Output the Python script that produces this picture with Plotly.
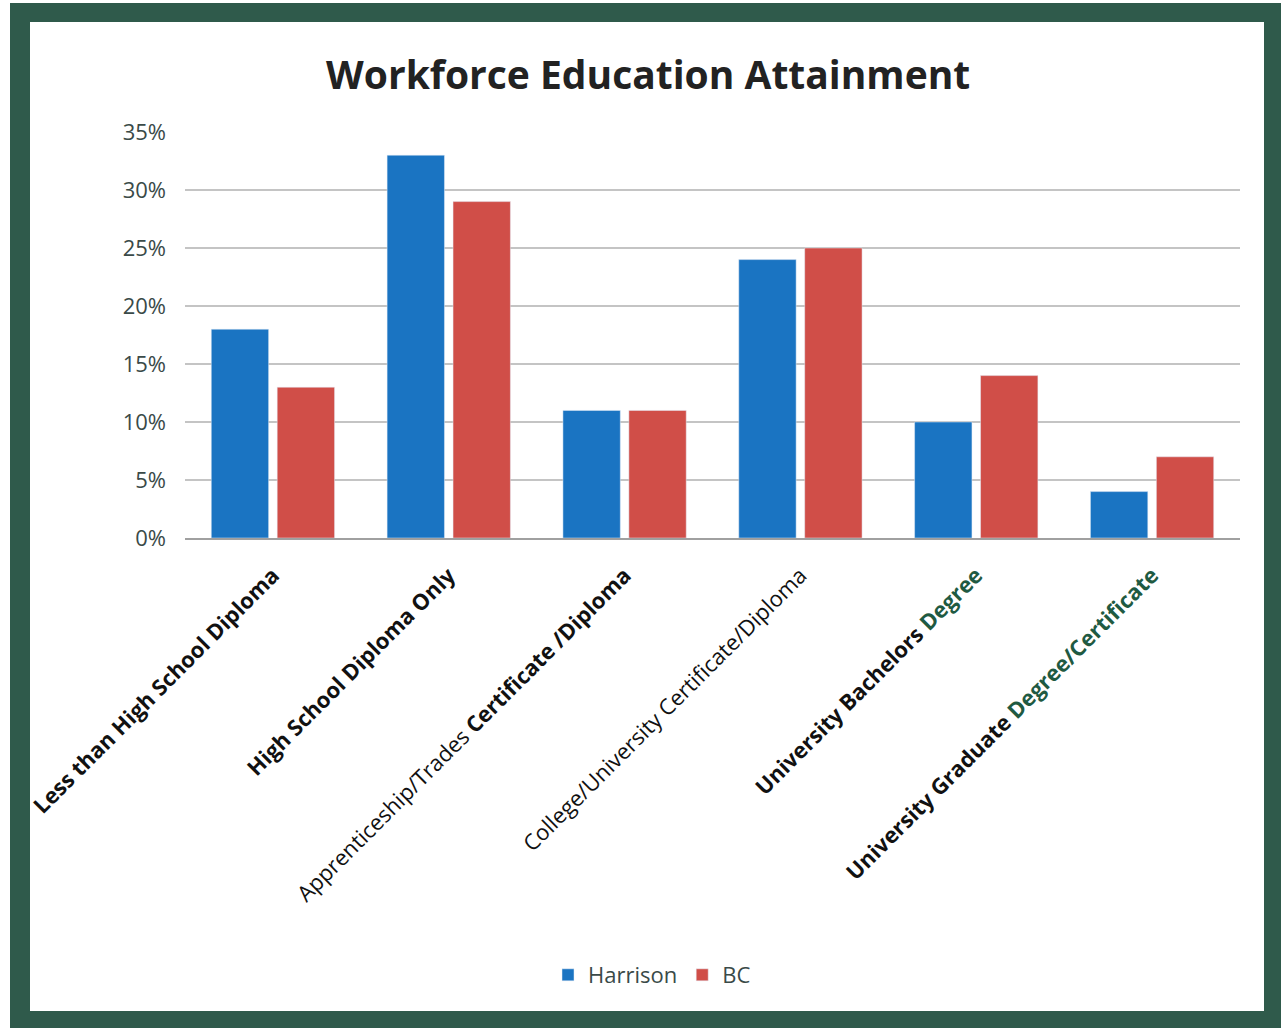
import plotly.graph_objects as go

categories = [
    "Less than High School Diploma",
    "High School Diploma Only",
    "Apprenticeship/Trades Certificate /Diploma",
    "College/University Certificate/Diploma",
    "University Bachelors Degree",
    "University Graduate Degree/Certificate",
]
tick_labels = [
    "<b>Less than High School Diploma</b>",
    "<b>High School Diploma Only</b>",
    "Apprenticeship/Trades <b>Certificate /Diploma</b>",
    "College/University Certificate/Diploma",
    "<b>University Bachelors <span style='color:#1f5a42'>Degree</span></b>",
    "<b>University Graduate <span style='color:#1f5a42'>Degree/Certificate</span></b>",
]
harrison = [0.18, 0.33, 0.11, 0.24, 0.10, 0.04]
bc = [0.13, 0.29, 0.11, 0.25, 0.14, 0.07]
y_ticks = [0, 0.05, 0.10, 0.15, 0.20, 0.25, 0.30, 0.35]

W, H = 1281, 1031
ML, MR, MT, MB = 185, 41, 132, 493
PW, PH = W - ML - MR, H - MT - MB


def px_x(p):
    return (p - ML) / PW


def px_y(p):
    return (H - MB - p) / PH


FONT = "Open Sans"
fig = go.Figure()
fig.add_trace(go.Bar(name="Harrison", x=categories, y=harrison, marker_color="#1a74c2"))
fig.add_trace(go.Bar(name="BC", x=categories, y=bc, marker_color="#d04e48"))

fig.update_layout(
    width=W, height=H,
    margin=dict(l=ML, r=MR, t=MT, b=MB, autoexpand=False),
    paper_bgcolor="white", plot_bgcolor="white",
    barmode="group", bargap=0.25, bargroupgap=0.13,
    font=dict(family=FONT, color="#3a4a48", size=20),
    title=dict(text="<b>Workforce Education Attainment</b>", x=0.506, xanchor="center",
               y=1 - 75 / H, yanchor="middle",
               font=dict(family=FONT, size=39, color="#222222")),
    showlegend=True,
    legend=dict(orientation="h", x=px_x(548), xanchor="left", y=px_y(975), yanchor="middle",
                itemwidth=30, font=dict(size=22, color="#3a4a48"), bgcolor="rgba(0,0,0,0)"),
    shapes=[
        dict(type="rect", xref="paper", yref="paper", layer="below",
             x0=px_x(10), x1=px_x(1281), y0=px_y(1028), y1=px_y(3),
             fillcolor="#2f5a4b", line=dict(width=0)),
        dict(type="rect", xref="paper", yref="paper", layer="below",
             x0=px_x(30), x1=px_x(1264), y0=px_y(1011), y1=px_y(22),
             fillcolor="white", line=dict(width=0)),
    ],
)
fig.update_xaxes(
    tickmode="array", tickvals=categories, ticktext=tick_labels,
    tickangle=-45, tickfont=dict(family=FONT, size=22, color="#111111"),
    ticklabelstandoff=14,
    showline=True, linecolor="#a0a0a0", linewidth=2, ticks="", automargin=False,
)
fig.update_yaxes(
    range=[0, 0.35], tickvals=y_ticks, tickformat=".0%",
    showgrid=True, gridcolor="#c4c4c4", gridwidth=2, zeroline=False,
    tickfont=dict(family=FONT, size=22, color="#3a4a48"), ticklabelstandoff=18,
    automargin=False,
)
fig.write_html("out.html")
